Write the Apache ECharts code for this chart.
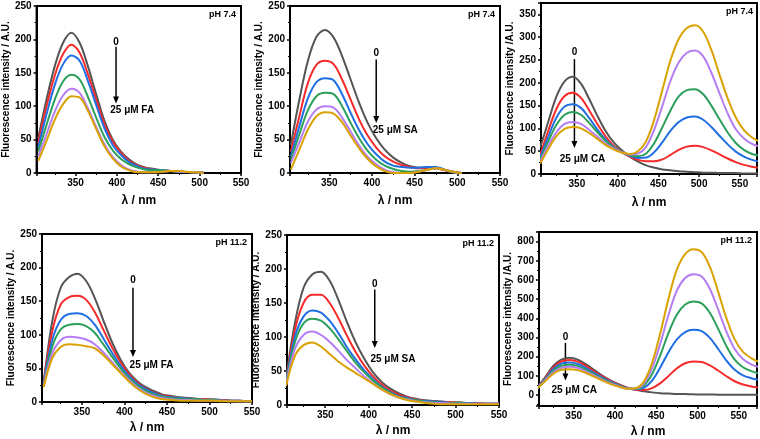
<!DOCTYPE html>
<html><head><meta charset="utf-8">
<script src="https://cdn.jsdelivr.net/npm/echarts@6/dist/echarts.min.js"></script>
<style>html,body{margin:0;padding:0;background:#fff}#c{width:760px;height:439px}</style>
</head><body><div id="c"></div>
<script>
// ---------- DATA ----------
const wlShort = [305,315,325,335,345,355,365,375,385,395,405,415,425,435,445,455,465,475,485,495,505];
const wlMid   = [305,315,325,335,345,355,365,375,385,395,405,415,425,435,445,455,465,475,485,495,505,515,525,535,545,550];
const wlLong  = [305,315,325,335,345,355,365,375,385,395,405,415,425,435,445,455,465,475,485,495,505,515,525,535,545,555,565,575];
const seriesNames = ['0','5','10','15','20','25 μM'];

// Panel 1: pH 7.4, FA
const p1Gray   = [52,110,160,195,210,195,160,118,78,50,32,20,12,8,6,4,3,2,1.5,1,0.5];
const p1Red    = [45,100,146,178,192,180,148,110,73,47,30,18,11,7,5,4,3,2,1.5,1,0.5];
const p1Blue   = [38,88,132,163,176,168,138,102,67,42,27,16,10,6,5,4,3,2,1.5,1,0.5];
const p1Green  = [32,72,110,137,147,140,114,83,54,34,21,13,8,5,4,4,3,2,1.5,1,0.5];
const p1Purple = [25,58,92,116,126,120,97,69,43,24,12,5,2,1,1,2,3,2,1.5,1,0.5];
const p1Gold   = [18,48,80,103,115,113,93,66,40,22,10,4,1,1,1,2,3,3,2,1,0.5];

// Panel 2: pH 7.4, SA
const p2Gray   = [42,110,168,204,214,203,175,140,105,75,52,35,23,15,10,8,8,8,5,2,0];
const p2Red    = [32,85,135,162,168,163,140,110,80,56,38,25,17,12,9,7,7,7,4,1,0];
const p2Blue   = [25,70,112,136,142,139,118,90,64,43,28,17,11,9,8,8,9,9,5,1,0];
const p2Green  = [20,58,94,115,120,118,100,75,52,33,20,11,6,3,2,3,5,7,5,1,0];
const p2Purple = [15,46,77,95,100,98,83,62,41,24,13,5,1,0,0,2,5,7,5,2,0];
const p2Gold   = [5,35,65,85,91,89,76,56,37,21,10,3,0,0,0,2,5,7,5,2,0];

// Panel 3: pH 7.4, CA
const p3Gray   = [58,115,170,203,213,198,165,128,95,70,52,38,27,19,14,10,8,6,5,4,3,3,2,2,2,1,1,1];
const p3Red    = [42,95,143,171,178,167,140,110,83,62,48,38,31,28,28,32,42,53,60,62,59,52,43,34,26,20,16,13];
const p3Blue   = [36,82,124,148,153,145,123,98,76,59,48,40,35,36,48,70,95,114,124,126,119,103,84,65,49,38,31,27];
const p3Green  = [31,72,108,130,136,130,112,92,73,58,48,41,39,45,68,103,140,170,184,186,175,150,120,91,68,53,44,40];
const p3Purple = [28,62,92,110,114,110,97,82,67,56,48,43,45,60,98,150,205,245,266,271,258,222,177,133,98,78,66,60];
const p3Gold   = [23,55,83,99,103,100,90,77,64,54,47,44,50,72,120,185,250,296,320,326,312,272,218,166,124,96,80,70];

// Panel 4: pH 11.2, FA
const p4Gray   = [28,120,170,186,191,180,155,122,90,64,44,31,22,16,11,9,7,6,5,4,4,3,2,2,1,1];
const p4Red    = [30,105,145,156,158,152,134,108,82,60,42,29,20,14,10,8,6,5,4,4,3,3,2,2,1,1];
const p4Blue   = [28,92,122,131,132,128,115,95,74,55,39,27,19,13,9,7,6,5,4,3,3,2,2,2,1,1];
const p4Green  = [26,82,108,115,116,113,103,86,68,51,36,25,17,11,8,6,5,4,4,3,3,2,2,1,1,1];
const p4Purple = [25,72,92,97,96,93,86,74,60,46,33,22,14,9,6,4,3,3,2,2,2,2,1,1,1,1];
const p4Gold   = [22,65,82,86,85,83,80,70,57,44,31,20,12,7,4,3,2,2,2,2,2,1,1,1,1,1];

// Panel 5: pH 11.2, SA
const p5Gray   = [40,120,172,192,196,183,155,122,92,68,48,34,24,17,12,9,7,6,5,4,4,3,3,2,2,2];
const p5Red    = [35,110,150,162,162,150,128,102,78,58,42,30,21,15,11,8,6,5,4,4,3,3,3,2,2,2];
const p5Blue   = [33,100,130,139,136,124,106,85,67,51,38,27,19,13,10,7,6,5,4,3,3,3,2,2,2,2];
const p5Green  = [32,92,120,127,124,113,97,79,62,48,36,26,18,12,9,7,5,4,3,3,3,2,2,2,2,2];
const p5Purple = [30,82,103,108,103,93,80,66,54,42,32,23,16,11,8,5,4,3,3,2,2,2,2,2,2,2];
const p5Gold   = [28,72,88,92,86,75,64,55,47,39,31,23,16,11,7,5,3,2,1,1,1,1,1,1,1,1];

// Panel 6: pH 11.2, CA
const p6Gray   = [35,90,150,185,195,185,160,130,100,75,55,38,27,20,14,10,8,6,5,4,3,3,2,2,2,1,1,1];
const p6Red    = [34,86,142,175,183,174,151,123,96,72,53,38,28,26,36,62,100,140,166,175,172,155,128,98,72,55,45,38];
const p6Blue   = [33,82,134,164,170,162,141,115,90,68,50,36,30,38,75,145,225,290,328,340,333,298,240,180,132,103,88,78];
const p6Green  = [32,78,126,153,158,151,132,108,84,64,47,35,32,50,110,210,325,420,472,488,478,428,345,255,185,145,125,112];
const p6Purple = [31,74,118,142,147,141,123,101,79,60,45,34,34,60,140,270,420,545,610,630,618,553,445,330,240,188,160,145];
const p6Gold   = [30,70,110,132,135,130,115,95,75,57,43,33,36,70,168,325,505,655,735,760,745,668,538,400,290,225,193,172];

const xTickLabels = [350,400,450,500,550];
const yTitleA = 'Fluorescence intensity / A.U.';
const yTitleB = 'Fluorescence intensity /A.U.';
const xTitle = 'λ / nm';
const phLabels = ['pH 7.4','pH 7.4','pH 7.4','pH 11.2','pH 11.2','pH 11.2'];
const endLabels = ['25 μM FA','25 μM SA','25 μM CA','25 μM FA','25 μM SA','25 μM CA'];
// annotation anchor points in data units: x, "0" label y, arrow start y, arrow end y, end-label left x, end-label y
const annX   = [399, 405, 347, 410, 407, 340];
const annTop = [196, 180, 267, 181, 178, 302];
const arrFrom= [189, 170, 252, 170, 170, 272];
const arrTo  = [104, 75, 57, 67, 84, 76];
const txtX   = [392, 401, 329, 406, 402, 323];
const txtY   = [94, 64, 33, 55, 68, 25];

// ---------- LAYOUT / STYLE ----------
const colors = ['#555555','#f52a2a','#1f6fe3','#2ca05a','#b57ef2','#d9a200'];
const FONT = '"Liberation Sans", Arial, sans-serif';
const panels = [
  {grid:[32,6,209,167],   xr:[303,550], yr:[0,250], ystep:50,  yTitle:yTitleA, yGap:21, xGap:22, wl:wlShort, d:[p1Gray,p1Red,p1Blue,p1Green,p1Purple,p1Gold]},
  {grid:[290,6,210,167],  xr:[304,550], yr:[0,250], ystep:50,  yTitle:yTitleA, yGap:20, xGap:22, wl:wlShort, d:[p2Gray,p2Red,p2Blue,p2Green,p2Purple,p2Gold]},
  {grid:[541,3,217,171],  xr:[306,571], yr:[0,375], ystep:50,  yTitle:yTitleB, yGap:21, xGap:23, wl:wlLong,  d:[p3Gray,p3Red,p3Blue,p3Green,p3Purple,p3Gold]},
  {grid:[42,234,210,168], xr:[303,550], yr:[0,250], ystep:50,  yTitle:yTitleA, yGap:24, xGap:20, wl:wlMid,   d:[p4Gray,p4Red,p4Blue,p4Green,p4Purple,p4Gold]},
  {grid:[287,235,212,170],xr:[306,550], yr:[0,250], ystep:50,  yTitle:yTitleA, yGap:19, xGap:20, wl:wlMid,   d:[p5Gray,p5Red,p5Blue,p5Green,p5Purple,p5Gold]},
  {grid:[539,232,218,176],xr:[308,572], yr:[-57,850], ystep:100, yTitle:yTitleB, yGap:21, xGap:20, wl:wlLong, d:[p6Gray,p6Red,p6Blue,p6Green,p6Purple,p6Gold]}
];

const txt = {fontFamily:FONT, fontWeight:'bold', color:'#000'};
const grids=[], xAxes=[], yAxes=[], series=[];
panels.forEach((p,i)=>{
  grids.push({left:p.grid[0], top:p.grid[1], width:p.grid[2], height:p.grid[3], show:true, borderColor:'#000', borderWidth:2, containLabel:false});
  xAxes.push({type:'value', gridIndex:i, min:p.xr[0], max:p.xr[1], minInterval:50, maxInterval:50, splitNumber:5,
    name:xTitle, nameLocation:'middle', nameGap:p.xGap, nameTextStyle:Object.assign({fontSize:12},txt),
    axisLine:{show:true, onZero:false, lineStyle:{color:'#000', width:2}},
    axisTick:{show:true, inside:false, length:3, lineStyle:{color:'#000', width:1.5}},
    minorTick:{show:true, splitNumber:2, length:2, lineStyle:{color:'#000', width:1}},
    splitLine:{show:false}, minorSplitLine:{show:false},
    axisLabel:Object.assign({fontSize:10, margin:5, formatter:v=>xTickLabels.indexOf(v)>=0?String(v):''},txt)});
  yAxes.push({type:'value', gridIndex:i, min:p.yr[0], max:p.yr[1], minInterval:p.ystep, maxInterval:p.ystep,
    splitNumber:Math.round((p.yr[1]-p.yr[0])/p.ystep),
    name:p.yTitle, nameLocation:'middle', nameGap:p.yGap, nameTextStyle:Object.assign({fontSize:10},txt),
    axisLine:{show:true, onZero:false, lineStyle:{color:'#000', width:2}},
    axisTick:{show:true, inside:false, length:3, lineStyle:{color:'#000', width:1.5}},
    minorTick:{show:true, splitNumber:2, length:2, lineStyle:{color:'#000', width:1}},
    splitLine:{show:false}, minorSplitLine:{show:false},
    axisLabel:Object.assign({fontSize:10, margin:5, formatter:v=>(v>=0 && v%p.ystep===0)?String(v):''},txt)});
  p.d.forEach((ys,k)=>{
    series.push({type:'line', name:seriesNames[k], xAxisIndex:i, yAxisIndex:i, showSymbol:false, smooth:0.35,
      clip:true, silent:true, animation:false,
      lineStyle:{color:colors[k], width:2}, itemStyle:{color:colors[k]},
      data: ys.map((v,j)=>[p.wl[j], v])});
  });
});

const chart = echarts.init(document.getElementById('c'), null, {renderer:'canvas'});
chart.setOption({animation:false, backgroundColor:'#fff', grid:grids, xAxis:xAxes, yAxis:yAxes, series:series});

// annotations placed through the axes' own scales
const g = [];
panels.forEach((p,i)=>{
  const px = (x,y)=>chart.convertToPixel({gridIndex:i},[x,y]);
  const gr = p.grid;
  g.push({type:'text', x:gr[0]+gr[2]-5, y:gr[1]+9, style:{text:phLabels[i], fontFamily:FONT, fontWeight:'bold', fontSize:9, fill:'#000', align:'right', verticalAlign:'middle'}});
  const t0 = px(annX[i], annTop[i]);
  g.push({type:'text', x:t0[0], y:t0[1], style:{text:'0', fontFamily:FONT, fontWeight:'bold', fontSize:10, fill:'#000', align:'center', verticalAlign:'middle'}});
  const a0 = px(annX[i], arrFrom[i]), a1 = px(annX[i], arrTo[i]);
  g.push({type:'line', shape:{x1:a0[0], y1:a0[1], x2:a1[0], y2:a1[1]-6}, style:{stroke:'#000', lineWidth:1.5}});
  g.push({type:'polygon', shape:{points:[[a1[0]-3,a1[1]-7],[a1[0]+3,a1[1]-7],[a1[0],a1[1]]]}, style:{fill:'#000'}});
  const tp = px(txtX[i], txtY[i]);
  g.push({type:'text', x:tp[0], y:tp[1], style:{text:endLabels[i], fontFamily:FONT, fontWeight:'bold', fontSize:10, fill:'#000', align:'left', verticalAlign:'middle'}});
});
chart.setOption({graphic:g});
</script></body></html>
